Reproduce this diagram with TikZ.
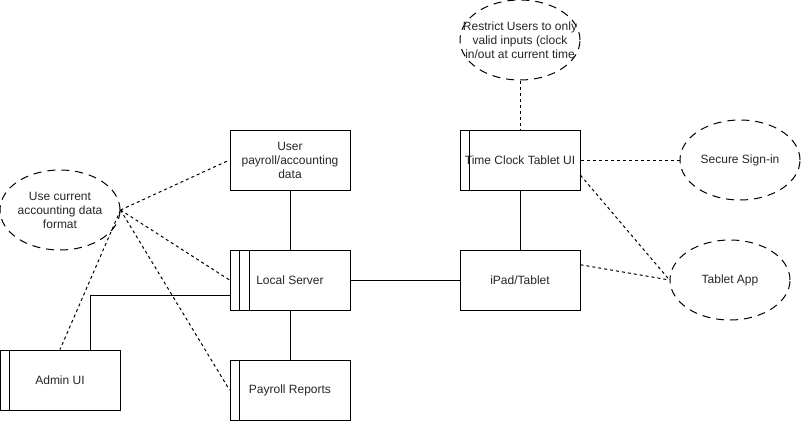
\documentclass[tikz,border=0pt]{standalone}
\usepackage{fontspec}
\setmainfont{Liberation Sans}
\usetikzlibrary{shapes.geometric,calc}
\begin{document}
\begin{tikzpicture}[x=1pt,y=-1pt,
  box/.style={draw=black,line width=1pt,minimum width=120pt,minimum height=60pt,inner sep=0pt,fill=white},
  ell/.style={draw=black,line width=1pt,ellipse,minimum width=120pt,minimum height=80pt,inner sep=0pt,dash pattern=on 8pt off 6pt},
  txt/.style={font=\fontsize{12}{14}\selectfont,align=center,text=black!85,inner sep=0pt},
  link/.style={draw=black,line width=1pt},
  dlink/.style={draw=black,line width=1pt,dash pattern=on 3pt off 3pt}]
\useasboundingbox (0,0) rectangle (801,423);
% boxes
\node[box] (up) at (290,160) {};
\node[txt] (upt) at (up) {User\\payroll/accounting\\data};
\node[box] (srv) at (290,280) {};
\node[txt] (srvt) at (srv) {Local Server};
\node[box] (rep) at (290,390) {};
\node[txt] (rept) at (rep) {Payroll Reports};
\node[box] (admin) at (60,380) {};
\node[txt] (admint) at (admin) {Admin UI};
\node[box] (tc) at (520,160) {};
\node[txt] (tct) at (tc) {Time Clock Tablet UI};
\node[box] (ipad) at (520,280) {};
\node[txt] (ipadt) at (ipad) {iPad/Tablet};
% inner bars
\draw[link] ($(srv.north west)+(10,0)$) -- ($(srv.south west)+(10,0)$);
\draw[link] ($(srv.north west)+(20,0)$) -- ($(srv.south west)+(20,0)$);
\draw[link] ($(rep.north west)+(10,0)$) -- ($(rep.south west)+(10,0)$);
\draw[link] ($(admin.north west)+(10,0)$) -- ($(admin.south west)+(10,0)$);
\draw[link] ($(tc.north west)+(10,0)$) -- ($(tc.south west)+(10,0)$);
% ellipses
\node[ell] (restrict) at (520,40) {};
\node[txt] (restrictt) at (restrict) {Restrict Users to only\\valid inputs (clock\\in/out at current time};
\node[ell] (secure) at (740,160) {};
\node[txt] (securet) at (secure) {Secure Sign-in};
\node[ell] (app) at (730,280) {};
\node[txt] (appt) at (app) {Tablet App};
\node[ell] (use) at (60,210) {};
\node[txt] (uset) at (use) {Use current\\accounting data\\format};
% solid connectors
\draw[link] (up.south) -- (srv.north);
\draw[link] (srv.south) -- (rep.north);
\draw[link] (srv.east) -- (ipad.west);
\draw[link] (tc.south) -- (ipad.north);
\draw[link] ($(admin.north)!0.5!(admin.north east)$) |- ($(srv.west)!0.5!(srv.south west)$);
% dashed connectors
\draw[dlink] (use.east) -- (up.west);
\draw[dlink] (use.east) -- (srv.west);
\draw[dlink] (use.east) -- (rep.west);
\draw[dlink] (use.east) -- (admin.north);
\draw[dlink] (restrict.south) -- (tc.north);
\draw[dlink] (tc.east) -- (secure.west);
\draw[dlink] ($(tc.south east)!0.25!(tc.north east)$) -- (app.west);
\draw[dlink] ($(ipad.north east)!0.25!(ipad.south east)$) -- (app.west);
\end{tikzpicture}
\end{document}
